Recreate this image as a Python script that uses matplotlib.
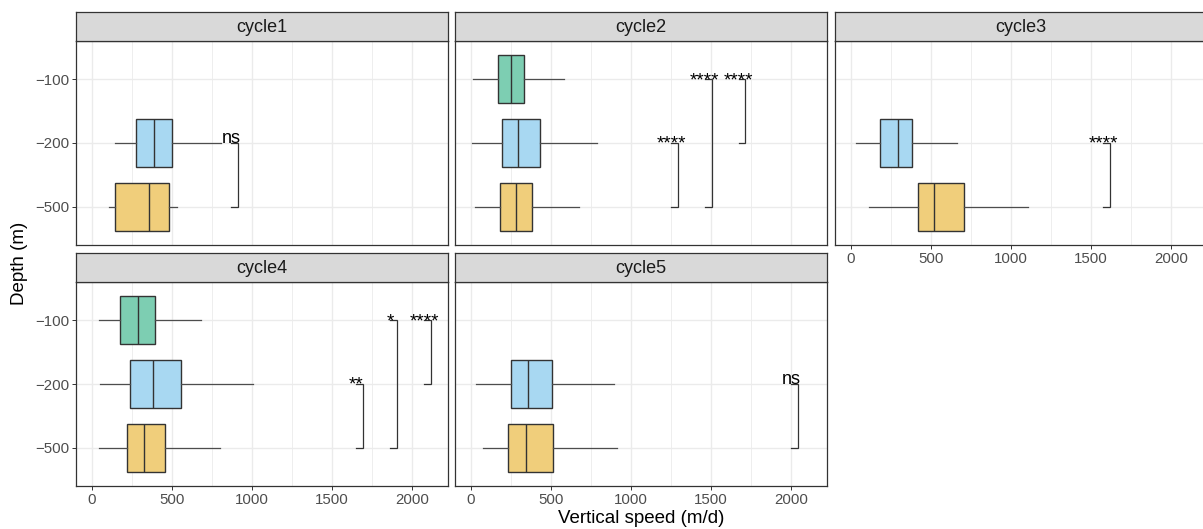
"""Vertical speed by depth for each cycle, faceted boxplots with significance brackets."""
import matplotlib
matplotlib.use("Agg")
import matplotlib.pyplot as plt
from matplotlib.ticker import MultipleLocator

plt.rcParams["font.family"] = ["Liberation Sans", "DejaVu Sans"]

CYCLES = ["cycle1", "cycle2", "cycle3", "cycle4", "cycle5"]
DEPTHS = ["-100", "-200", "-500"]
DEPTH_LABELS = ["\u2212100", "\u2212200", "\u2212500"]
DEPTH_COLORS = {"-100": "#7DCEB2", "-200": "#A8D8F2", "-500": "#F0CE7B"}

# one entry per box
BOX_CYCLE = ["cycle1", "cycle1",
             "cycle2", "cycle2", "cycle2",
             "cycle3", "cycle3",
             "cycle4", "cycle4", "cycle4",
             "cycle5", "cycle5"]
BOX_DEPTH = ["-200", "-500",
             "-100", "-200", "-500",
             "-200", "-500",
             "-100", "-200", "-500",
             "-200", "-500"]
WHISKER_LO = [142, 108, 15, 6, 23, 33, 115, 42, 48, 42, 29, 73]
Q1 = [273, 142, 167, 192, 183, 183, 421, 177, 240, 217, 252, 229]
MEDIAN = [388, 354, 248, 294, 279, 294, 521, 288, 381, 325, 354, 346]
Q3 = [500, 481, 333, 433, 383, 379, 704, 394, 556, 456, 508, 510]
WHISKER_HI = [809, 534, 579, 788, 675, 660, 1108, 679, 1006, 800, 892, 913]

# significance brackets
SIG_CYCLE = ["cycle1", "cycle2", "cycle2", "cycle2", "cycle3",
             "cycle4", "cycle4", "cycle4", "cycle5"]
SIG_FROM = ["-200", "-200", "-100", "-100", "-200", "-200", "-100", "-100", "-200"]
SIG_TO = ["-500", "-500", "-500", "-200", "-500", "-500", "-500", "-200", "-500"]
SIG_POS = [912, 1292, 1504, 1715, 1619, 1694, 1904, 2119, 2042]
SIG_LABEL = ["ns", "****", "****", "****", "****", "**", "*", "****", "ns"]

W, H = 1203, 529
COL_LEFT = [76, 455, 835]
PANEL_W = 372
ROW_TOP = [41, 282]
PANEL_H = 204
STRIP_H = 29
TIP = 42

Y_POS = {"-100": 3, "-200": 2, "-500": 1}


def frac_rect(left, top, width, height):
    return [left / W, (H - top - height) / H, width / W, height / H]


def style_panel(ax, show_x, show_y):
    ax.set_xlim(-100, 2225)
    ax.set_ylim(0.4, 3.6)
    ax.xaxis.set_major_locator(MultipleLocator(500))
    ax.xaxis.set_minor_locator(MultipleLocator(250))
    ax.set_yticks([Y_POS[d] for d in DEPTHS])
    ax.set_yticklabels(DEPTH_LABELS)
    ax.grid(True, which="major", color="#EBEBEB", lw=1.0)
    ax.grid(True, which="minor", axis="x", color="#EBEBEB", lw=0.6)
    ax.set_axisbelow(True)
    for sp in ax.spines.values():
        sp.set_color("#333333")
        sp.set_linewidth(0.9)
    ax.tick_params(which="minor", length=0)
    ax.tick_params(axis="both", which="major", length=2.6, width=0.7,
                   color="#333333", labelcolor="#4D4D4D", labelsize=10.8, pad=2.2)
    ax.tick_params(axis="x", bottom=show_x, labelbottom=show_x)
    ax.tick_params(axis="y", left=show_y, labelleft=show_y)


fig = plt.figure(figsize=(W / 100, H / 100), dpi=100)

for i, cycle in enumerate(CYCLES):
    row, col = divmod(i, 3)
    left = COL_LEFT[col]
    top = ROW_TOP[row]
    ax = fig.add_axes(frac_rect(left, top, PANEL_W, PANEL_H))

    stats, pos, colors = [], [], []
    for k in range(len(BOX_CYCLE)):
        if BOX_CYCLE[k] != cycle:
            continue
        stats.append(dict(whislo=WHISKER_LO[k], q1=Q1[k], med=MEDIAN[k],
                          q3=Q3[k], whishi=WHISKER_HI[k]))
        pos.append(Y_POS[BOX_DEPTH[k]])
        colors.append(DEPTH_COLORS[BOX_DEPTH[k]])
    bp = ax.bxp(stats, positions=pos, widths=0.75, orientation="horizontal",
                patch_artist=True, showfliers=False, showcaps=False,
                manage_ticks=False,
                boxprops=dict(edgecolor="#333333", linewidth=1.0),
                whiskerprops=dict(color="#4D4D4D", linewidth=0.9),
                medianprops=dict(color="#333333", linewidth=1.0))
    for patch, c in zip(bp["boxes"], colors):
        patch.set_facecolor(c)

    for k in range(len(SIG_CYCLE)):
        if SIG_CYCLE[k] != cycle:
            continue
        x = SIG_POS[k]
        ya, yb = Y_POS[SIG_FROM[k]], Y_POS[SIG_TO[k]]
        ax.plot([x - TIP, x, x, x - TIP], [ya, ya, yb, yb],
                color="#333333", lw=0.9, solid_joinstyle="miter")
        lab = SIG_LABEL[k]
        if "*" in lab:
            ax.annotate(lab, (x - TIP, ya), xytext=(0, -4.2), textcoords="offset points",
                        ha="center", va="baseline", fontsize=13.5, color="black")
        else:
            ax.annotate(lab, (x - TIP, ya), xytext=(0, 0), textcoords="offset points",
                        ha="center", va="baseline", fontsize=13, color="black")

    show_x = row == 1 or (row == 0 and col == 2)
    style_panel(ax, show_x, col == 0)

    sax = fig.add_axes(frac_rect(left, top - STRIP_H, PANEL_W, STRIP_H))
    sax.set_facecolor("#D9D9D9")
    sax.set_xticks([])
    sax.set_yticks([])
    for sp in sax.spines.values():
        sp.set_color("#333333")
        sp.set_linewidth(0.9)
    sax.text(0.5, 0.47, cycle, ha="center", va="center", fontsize=13,
             color="#1A1A1A", transform=sax.transAxes)

fig.text(641 / W, 1 - 523 / H, "Vertical speed (m/d)", ha="center", va="baseline",
         fontsize=13.5, color="black")
fig.text(19 / W, 1 - 263 / H, "Depth (m)", ha="center", va="center", rotation=90,
         fontsize=13.5, color="black")

fig.savefig("out.png", dpi=100)
